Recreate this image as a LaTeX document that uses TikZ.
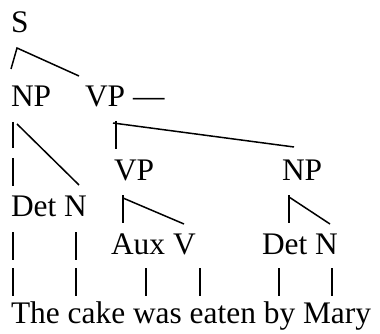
\documentclass[tikz,border=0pt]{standalone}
\usepackage{fontspec}
\setmainfont{Liberation Serif}
\begin{document}
\begin{tikzpicture}[x=1pt,y=-1pt,
  lbl/.style={anchor=base west,inner sep=0pt,outer sep=0pt,font=\fontsize{31.4}{36}\selectfont},
  bar/.style={line width=1.2pt},
  edge/.style={line width=1.5pt}]
\useasboundingbox (0,0) rectangle (380,334);
% labels
\node[lbl] (S) at (11,33) {S};
\node[lbl] (NPa) at (11,107) {NP};
\node[lbl] (VPa) at (85,107) {VP};
\node[lbl] (dash) at (133,107) {—};
\node[lbl] (VPb) at (114,180) {VP};
\node[lbl] (NPb) at (282,180) {NP};
\node[lbl] (Deta) at (11,216) {Det};
\node[lbl] (Na) at (64,216) {N};
\node[lbl] (Aux) at (111,254) {Aux};
\node[lbl] (V) at (173,254) {V};
\node[lbl] (Detb) at (262,254) {Det};
\node[lbl] (Nb) at (315,254) {N};
\node[lbl] (w1) at (11,323) {The};
\node[lbl] (w2) at (67.7,323) {cake};
\node[lbl] (w3) at (133,323) {was};
\node[lbl] (w4) at (189.7,323) {eaten};
\node[lbl] (w5) at (263.8,323) {by};
\node[lbl] (w6) at (303,323) {Mary};
% S branches
\coordinate (s1) at (11,69); \coordinate (s2) at (17,48); \coordinate (s3) at (79,76);
\draw[edge] (s1) -- (s2) -- (s3);
% NP branches
\coordinate (n1) at (13,122); \coordinate (n2) at (13,148);
\draw[bar] (n1) -- (n2);
\coordinate (n3) at (17,124); \coordinate (n4) at (79,185);
\draw[edge] (n3) -- (n4);
\coordinate (n5) at (13,158); \coordinate (n6) at (13,186);
\draw[bar] (n5) -- (n6);
% VP branches
\coordinate (v1) at (116,121); \coordinate (v2) at (116,149);
\draw[bar] (v1) -- (v2);
\coordinate (v3) at (113,123); \coordinate (v4) at (294,147);
\draw[edge] (v3) -- (v4);
% VP2 branches
\coordinate (p1) at (123,195); \coordinate (p2) at (123,223);
\draw[bar] (p1) -- (p2);
\coordinate (p3) at (123,198); \coordinate (p4) at (184,224);
\draw[edge] (p3) -- (p4);
% NP2 branches
\coordinate (q1) at (289,195); \coordinate (q2) at (289,223);
\draw[bar] (q1) -- (q2);
\coordinate (q3) at (289,197); \coordinate (q4) at (330,224);
\draw[edge] (q3) -- (q4);
% bars row 5
\foreach \x [count=\i] in {13,76}{
  \coordinate (r5t\i) at (\x,232); \coordinate (r5b\i) at (\x,260);
  \draw[bar] (r5t\i) -- (r5b\i);
}
% bars row 6
\foreach \x [count=\i] in {13,76,146,200,279,332}{
  \coordinate (r6t\i) at (\x,268); \coordinate (r6b\i) at (\x,296);
  \draw[bar] (r6t\i) -- (r6b\i);
}
\end{tikzpicture}
\end{document}
